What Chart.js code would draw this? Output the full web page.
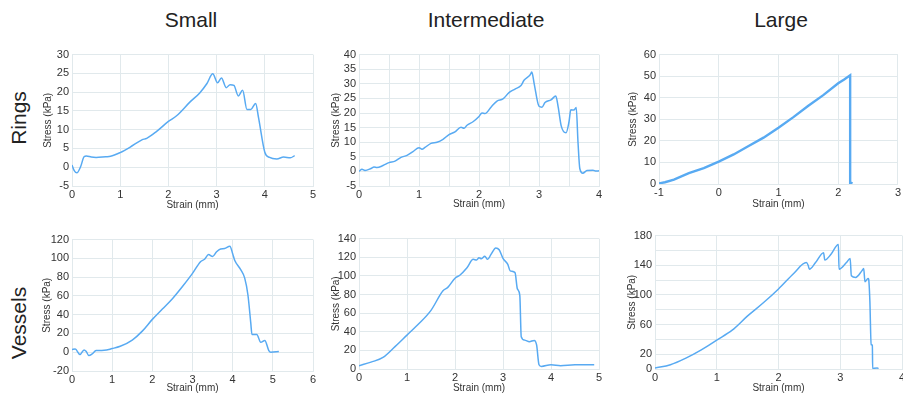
<!DOCTYPE html>
<html>
<head>
<meta charset="utf-8">
<script src="https://cdn.jsdelivr.net/npm/chart.js@4"></script>
<style>
  html, body { margin:0; padding:0; background:#fff; }
  body { width:903px; height:394px; position:relative; overflow:hidden; font-family: Arial, "Liberation Sans", sans-serif; color:#222; }
  .col { position:absolute; top:9px; font-size:21px; line-height:21px; transform:translateX(-50%); white-space:nowrap; }
  .row { position:absolute; font-size:21px; line-height:21px; transform:translate(-50%,-50%) rotate(-90deg); white-space:nowrap; }
  canvas { position:absolute; }
</style>
</head>
<body>
<div class="col" style="left:191px">Small</div>
<div class="col" style="left:486px">Intermediate</div>
<div class="col" style="left:781px">Large</div>
<div class="row" style="left:18px;top:118px">Rings</div>
<div class="row" style="left:18px;top:323px">Vessels</div>

<canvas id="c1" width="279" height="166" style="left:42px;top:45px"></canvas>
<canvas id="c2" width="277" height="165" style="left:330px;top:45px"></canvas>
<canvas id="c3" width="276" height="165" style="left:627px;top:45px"></canvas>
<canvas id="c4" width="280" height="164" style="left:41px;top:230px"></canvas>
<canvas id="c5" width="277" height="165" style="left:330px;top:229px"></canvas>
<canvas id="c6" width="277" height="168" style="left:626px;top:226px"></canvas>

<script>
// Data: strain (mm) vs stress (kPa)
const ringsSmallStrain = [0, 0.05, 0.1, 0.18, 0.25, 0.3, 0.4, 0.5, 0.7, 0.8, 1.0, 1.2, 1.45, 1.55, 1.75, 2.0, 2.17, 2.45, 2.65, 2.8, 2.92, 3.02, 3.1, 3.2, 3.28, 3.36, 3.45, 3.54, 3.63, 3.71, 3.81, 3.87, 4.0, 4.1, 4.25, 4.39, 4.53, 4.62];
const ringsSmallStress = [0.6, -1.0, -1.5, 0.2, 2.8, 3.0, 2.7, 2.6, 2.8, 2.9, 3.9, 5.3, 7.3, 7.7, 9.5, 12.2, 13.7, 17.4, 19.8, 22.3, 24.9, 22.5, 23.8, 21.2, 22.0, 21.8, 19.0, 20.5, 15.4, 15.4, 17.0, 13.2, 4.0, 2.6, 2.2, 2.7, 2.5, 3.1];

const ringsInterStrain = [0, 0.05, 0.1, 0.2, 0.25, 0.3, 0.4, 0.5, 0.6, 0.7, 0.8, 0.9, 1.0, 1.05, 1.1, 1.2, 1.3, 1.4, 1.5, 1.6, 1.7, 1.75, 1.8, 1.9, 2.0, 2.05, 2.1, 2.2, 2.3, 2.4, 2.5, 2.6, 2.7, 2.75, 2.85, 2.88, 2.92, 3.0, 3.05, 3.1, 3.2, 3.28, 3.32, 3.37, 3.45, 3.5, 3.53, 3.58, 3.62, 3.65, 3.68, 3.73, 3.8, 3.9, 3.95, 4.0];
const ringsInterStress = [0, 0.7, 0.3, 1.0, 1.5, 1.3, 2.0, 3.0, 3.5, 4.8, 5.5, 6.8, 8.1, 7.6, 8.2, 9.6, 10.0, 11.0, 12.6, 13.5, 15.1, 14.8, 15.8, 17.0, 18.8, 20.0, 19.8, 22.0, 24.1, 24.8, 27.0, 28.2, 29.4, 31.2, 33.0, 34.0, 30.0, 22.3, 22.0, 23.6, 24.5, 25.8, 22.0, 15.6, 13.2, 17.0, 21.1, 21.0, 21.9, 10.0, 1.0, -0.6, 0.3, 0.4, 0.1, 0.2];

const ringsLargeStrain = [-1, -0.9, -0.75, -0.5, -0.25, 0, 0.25, 0.5, 0.75, 1.0, 1.25, 1.5, 1.75, 2.0, 2.1, 2.2, 2.2, 2.22, 2.24];
const ringsLargeStress = [0.3, 0.8, 2.0, 5.0, 7.4, 10.4, 13.7, 17.6, 21.5, 26.1, 31.0, 36.3, 41.2, 46.7, 48.5, 50.4, 0.2, 0.5, 0.3];

const vesselsSmallStrain = [0, 0.08, 0.2, 0.3, 0.35, 0.42, 0.5, 0.6, 0.8, 1.0, 1.2, 1.5, 1.75, 2.0, 2.25, 2.5, 2.75, 3.0, 3.2, 3.3, 3.4, 3.5, 3.6, 3.7, 3.8, 3.93, 4.0, 4.05, 4.2, 4.3, 4.38, 4.45, 4.48, 4.6, 4.7, 4.8, 4.9, 4.95, 5.15];
const vesselsSmallStress = [2.8, 3.5, -2.5, 2.5, 1.0, -3.5, -1.8, 1.8, 2.0, 3.9, 6.3, 13, 22.5, 35, 46, 57, 70, 84, 96.5, 99, 104, 102, 107, 110, 110.5, 113, 105, 98, 88, 79, 61, 31.5, 19, 19, 10.5, 12.6, 1.8, 0, 0.7];

const vesselsInterStrain = [0, 0.25, 0.5, 0.75, 1.0, 1.25, 1.5, 1.75, 1.85, 2.0, 2.1, 2.25, 2.38, 2.45, 2.5, 2.55, 2.62, 2.68, 2.75, 2.85, 2.92, 3.0, 3.1, 3.15, 3.25, 3.3, 3.35, 3.38, 3.45, 3.55, 3.65, 3.7, 3.75, 3.8, 4.0, 4.2, 4.5, 4.9];
const vesselsInterStress = [3.5, 7.4, 12.4, 24, 36.4, 48.8, 63, 84, 87.6, 97.5, 100.7, 108.8, 117.7, 117, 119.4, 118.4, 121, 117.7, 123, 130, 128, 118.7, 112.4, 105.3, 103.5, 86, 79, 34.6, 31, 29.3, 30.7, 25.8, 4.6, 2.8, 4.6, 3.6, 4.6, 4.6];

const vesselsLargeStrain = [0, 0.25, 0.5, 0.75, 1.0, 1.25, 1.5, 1.75, 2.0, 2.25, 2.45, 2.48, 2.5, 2.6, 2.73, 2.75, 2.85, 2.97, 2.98, 3.1, 3.16, 3.18, 3.25, 3.35, 3.38, 3.4, 3.45, 3.46, 3.48, 3.5, 3.52, 3.525, 3.55, 3.6, 3.62];
const vesselsLargeStress = [1.3, 5.8, 14.7, 25.8, 39, 52.4, 71.6, 89, 108, 129.3, 143.6, 140, 134.7, 143.6, 157, 147, 154.7, 168, 134.7, 143.6, 149, 125.8, 123.6, 132.4, 135.6, 117.8, 122, 121, 91, 33, 32, 0.4, 1.0, 1.5, 0.5];

const LINE = "#58aaf2";
const GRID = "#e1e9ec";
const TXT = "#333";

const pts = (xs, ys) => xs.map((x, i) => ({ x, y: ys[i] }));

function plot(id, xs, ys, o){
  new Chart(document.getElementById(id), {
    type: "scatter",
    data: { datasets: [{ data: pts(xs, ys), showLine: true, borderColor: LINE, borderWidth: o.bw || 1.5,
      pointRadius: 0, tension: o.straight ? 0 : 0.4, cubicInterpolationMode: o.straight ? "default" : "monotone", fill: false }] },
    options: {
      responsive: false, animation: false,
      layout: { padding: { top: 8, right: o.padR ?? 8, left: 0, bottom: 0 } },
      plugins: { legend: { display: false }, tooltip: { enabled: false } },
      scales: {
        x: {
          type: "linear", min: o.xMin, max: o.xMax,
          ticks: { stepSize: o.xStep, color: TXT, font: { size: 11 }, padding: 2, maxRotation: 0, autoSkip: false,
            callback: o.xCb || (v => v) },
          grid: { color: GRID, drawTicks: false }, border: { color: GRID },
          title: { display: true, text: "Strain (mm)", color: TXT, font: { size: 10 }, padding: 0 },
          afterFit: s => { s.height = o.H; if (o.noPadR) s.paddingRight = 0; }
        },
        y: {
          min: o.yMin, max: o.yMax,
          ticks: { stepSize: o.yStep, color: TXT, font: { size: 11 }, padding: 3, autoSkip: false,
            callback: o.yCb || (v => v) },
          grid: { color: GRID, drawTicks: false }, border: { color: GRID },
          title: { display: true, text: "Stress (kPa)", color: TXT, font: { size: 10 }, padding: 0 },
          afterFit: s => { s.width = o.W; }
        }
      }
    }
  });
}

plot("c1", ringsSmallStrain, ringsSmallStress, { xMin:0, xMax:5, xStep:1, yMin:-5, yMax:30, yStep:5, W:30, H:25 });
plot("c2", ringsInterStrain, ringsInterStress, { xMin:0, xMax:4, xStep:0.5, yMin:-5, yMax:40, yStep:5, W:29, H:24,
  xCb: v => Number.isInteger(v) ? v : "" });
plot("c3", ringsLargeStrain, ringsLargeStress, { xMin:-1, xMax:3, xStep:1, yMin:0, yMax:60, yStep:10, W:32, H:26, padR:5, bw:2.4, straight:true });
plot("c4", vesselsSmallStrain, vesselsSmallStress, { xMin:0, xMax:6, xStep:1, yMin:-20, yMax:120, yStep:20, W:31, H:23 });
plot("c5", vesselsInterStrain, vesselsInterStress, { xMin:0, xMax:5, xStep:1, yMin:0, yMax:140, yStep:20, W:29, H:25 });
plot("c6", vesselsLargeStrain, vesselsLargeStress, { xMin:0, xMax:4, xStep:1, yMin:0, yMax:180, yStep:20, W:29, H:25, padR:1, noPadR:true,
  yCb: v => (v === 0 || (v - 20) % 40 === 0) ? v : "" });
</script>
</body>
</html>
